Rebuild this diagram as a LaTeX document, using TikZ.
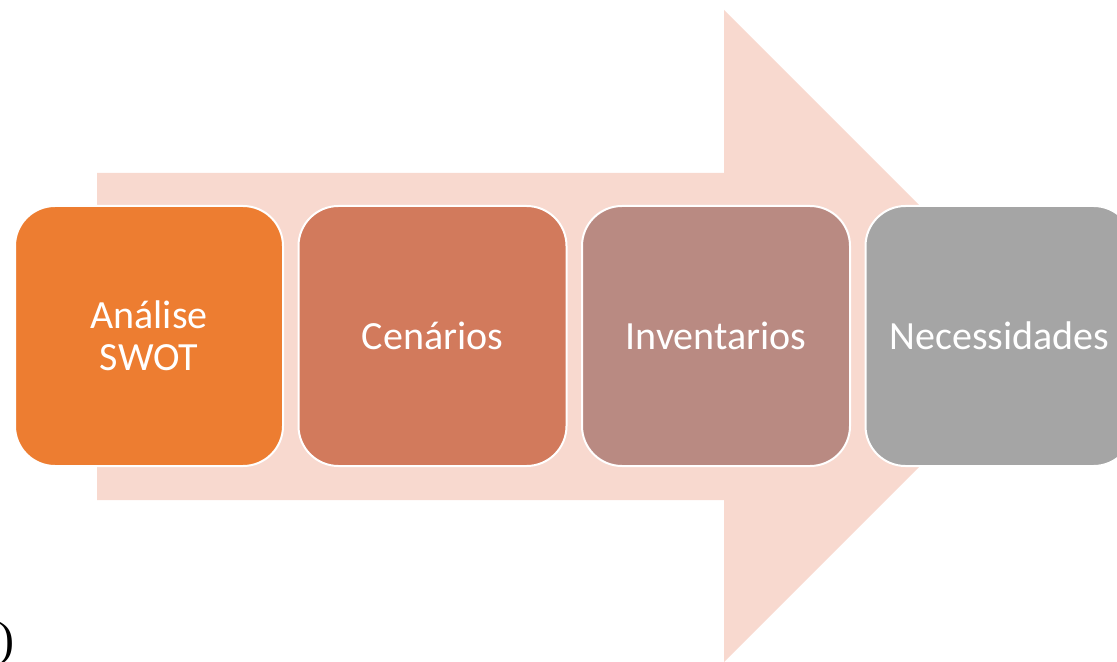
\documentclass[tikz,border=0pt]{standalone}
\usepackage{fontspec}
\setmainfont{Carlito}
\newfontfamily\serifpar{Liberation Serif}
\definecolor{arrowfill}{HTML}{F8D9CF}
\definecolor{cA}{HTML}{ED7D31}
\definecolor{cB}{HTML}{D27A5C}
\definecolor{cC}{HTML}{B98A82}
\definecolor{cD}{HTML}{A5A5A5}
\tikzset{
  stepbox/.style={draw=white, line width=1pt, rounded corners=20pt,
    minimum width=134pt, minimum height=130pt, inner sep=0pt,
    text=white, font=\fontsize{20}{21}\selectfont, align=center},
}
\begin{document}
\begin{tikzpicture}[x=0.5pt,y=-0.5pt]
\useasboundingbox (0,0) rectangle (1117,662);
\clip (0,0) rectangle (1117,662);
% big background arrow
\fill[arrowfill] (97,173) -- (724,173) -- (724,10) -- (1050,336) -- (724,662) -- (724,500) -- (97,500) -- cycle;
% steps
\node[stepbox, fill=cA] (s1) at (149,336) {Análise\\SWOT};
\node[stepbox, fill=cB] (s2) at (432.5,336) {Cenários};
\node[stepbox, fill=cC] (s3) at (716,336) {Inventarios};
\node[stepbox, fill=cD] (s4) at (999.5,336) {Necessidades};
% stray parenthesis
\node[anchor=north west, inner sep=0pt, font=\serifpar\fontsize{24}{26}\selectfont] (par) at (-2,622) {)};
\end{tikzpicture}
\end{document}
